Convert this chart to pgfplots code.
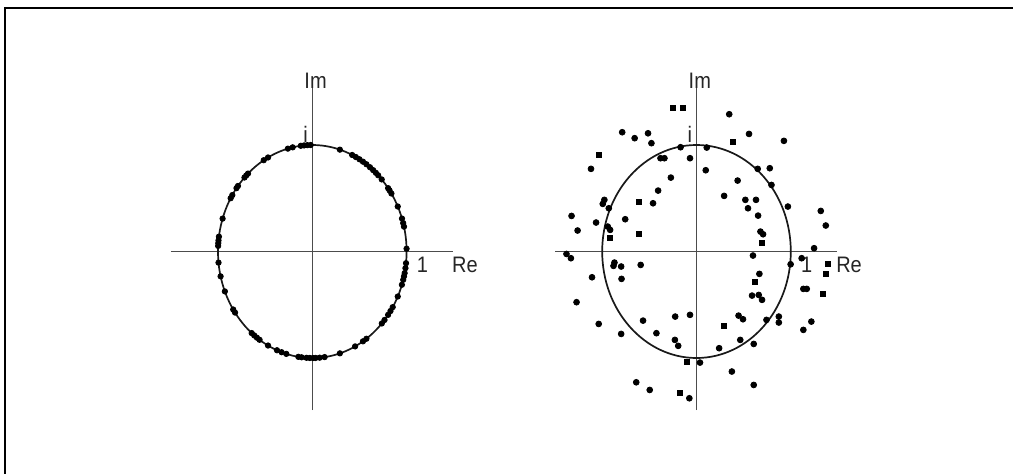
\documentclass[border=0pt]{standalone}
\usepackage{fontspec}
\setmainfont{Liberation Sans}
\usepackage{pgfplots}
\usepackage{pgfplotstable}
\pgfplotsset{compat=1.18}

% Points lying on the unit circle (left panel)
\pgfplotstableread{
x y
-0.0175 0.9998
-0.0523 0.9986
-0.0872 0.9962
-0.1219 0.9925
-0.2079 0.9781
-0.2588 0.9659
-0.4695 0.8829
-0.5150 0.8572
-0.6820 0.7314
-0.7009 0.7133
-0.7193 0.6947
-0.7880 0.6157
-0.8039 0.5948
-0.8480 0.5299
-0.8660 0.5000
-0.9511 0.3090
-0.9903 0.1392
-0.9945 0.1045
-0.9969 0.0785
-0.9986 0.0523
-0.9945 -0.1045
-0.9724 -0.2334
-0.9272 -0.3746
-0.8387 -0.5446
-0.8192 -0.5736
-0.6428 -0.7660
-0.6157 -0.7880
-0.5878 -0.8090
-0.5592 -0.8290
-0.4695 -0.8829
-0.3746 -0.9272
-0.3256 -0.9455
-0.2756 -0.9613
-0.1478 -0.9890
-0.1132 -0.9936
-0.0610 -0.9981
-0.0262 -0.9997
0.0087 -1.0000
0.0349 -0.9994
0.0785 -0.9969
0.1305 -0.9914
0.2924 -0.9563
0.4540 -0.8910
0.5373 -0.8434
0.5736 -0.8192
0.7373 -0.6756
0.7660 -0.6428
0.8039 -0.5948
0.8290 -0.5592
0.8526 -0.5225
0.9063 -0.4226
0.9500 -0.3123
0.9641 -0.2656
0.9724 -0.2334
0.9792 -0.2028
0.9877 -0.1564
0.9940 -0.1097
0.9997 0.0262
0.9724 0.2334
0.9636 0.2672
0.9511 0.3090
0.9063 0.4226
0.8387 0.5446
0.8192 0.5736
0.8039 0.5948
0.7361 0.6769
0.6984 0.7157
0.6743 0.7385
0.6455 0.7638
0.6115 0.7912
0.5736 0.8192
0.5373 0.8434
0.5000 0.8660
0.4617 0.8870
0.4226 0.9063
0.2924 0.9563
}\onCircle

% Scattered points (right panel), round markers
\pgfplotstableread{
x y
0.347 1.289
-0.788 1.120
-0.656 1.064
-0.514 1.110
-0.478 1.017
0.557 1.104
0.927 1.039
-0.169 0.979
0.109 0.976
-0.069 0.876
-1.119 0.776
-0.382 0.876
-0.340 0.876
-0.272 0.694
0.098 0.763
0.649 0.776
0.777 0.782
0.436 0.666
0.795 0.625
-0.407 0.572
-0.461 0.453
-0.977 0.485
-0.994 0.447
-0.930 0.406
0.293 0.522
0.518 0.485
0.631 0.485
0.546 0.406
0.653 0.337
0.969 0.422
1.318 0.381
1.371 0.244
-1.325 0.334
-1.065 0.272
-0.756 0.303
-1.261 0.197
-0.941 0.234
-0.916 0.203
0.678 0.187
0.706 0.162
-1.379 -0.023
-1.332 -0.063
1.247 0.031
0.599 -0.038
1.115 -0.063
0.998 -0.120
-0.870 -0.104
-0.799 -0.141
-0.880 -0.135
-0.592 -0.126
-1.108 -0.242
-0.795 -0.257
0.667 -0.210
1.133 -0.351
1.169 -0.351
-1.272 -0.476
0.589 -0.414
0.660 -0.408
0.695 -0.454
-1.037 -0.680
-0.799 -0.774
-0.567 -0.649
-0.425 -0.767
-0.226 -0.611
-0.069 -0.595
0.446 -0.602
0.493 -0.636
0.742 -0.642
0.873 -0.611
0.873 -0.667
1.133 -0.736
1.218 -0.658
-0.229 -0.830
-0.194 -0.886
0.240 -0.908
0.464 -0.830
0.607 -0.868
0.037 -1.043
0.375 -1.127
-0.639 -1.228
-0.496 -1.300
-0.076 -1.378
0.607 -1.253
}\scatterRound

% Scattered points (right panel), square markers
\pgfplotstableread{
x y
-0.254 1.345
-0.141 1.345
0.386 1.032
-1.037 0.907
-0.610 0.463
-0.916 0.125
-0.614 0.162
0.695 0.078
1.389 -0.120
0.614 -0.289
1.371 -0.213
1.343 -0.401
0.293 -0.695
-0.105 -1.033
-0.176 -1.331
}\scatterSquare

\pgfplotsset{
  plane/.style={
    anchor=south west,
    x=47.15pt, y=53.25pt,
    xmin=-1.5, xmax=1.5, ymin=-1.5, ymax=1.5,
    hide axis, clip=false,
  },
}
\tikzset{
  lbl/.style={inner sep=0pt, text=black!85, yscale=1.12,
    font=\fontsize{10}{12}\selectfont},
}

\newcommand{\complexplane}{%
  \draw[line width=0.55pt, black!70] (axis cs:-1.5,0) -- (axis cs:1.49,0);
  \draw[line width=0.55pt, black!70] (axis cs:0,-1.49) -- (axis cs:0,1.535);
  \draw[line width=0.85pt, black!90] (axis cs:0,0) ellipse [x radius=1, y radius=1];
  \node[lbl, anchor=base west] at (axis cs:-0.087,1.535) {Im};
  \node[lbl, anchor=base] at (axis cs:-0.07,1.028) {i};
  \node[lbl, anchor=base] at (axis cs:1.169,-0.197) {1};
  \node[lbl, anchor=base west] at (axis cs:1.478,-0.197) {Re};
}

\begin{document}
\begin{tikzpicture}
\path[use as bounding box, fill=white] (0pt,0pt) rectangle (506.5pt,236.5pt);
\draw[line width=1pt, line cap=rect] (2.5pt,-5pt) -- (2.5pt,232.65pt) -- (515pt,232.65pt);

\begin{axis}[plane, at={(85.425pt,30.875pt)}]
  \complexplane
  \addplot[only marks, mark=*, mark size=1.35pt, black] table {\onCircle};
\end{axis}

\begin{axis}[plane, at={(277.525pt,30.875pt)}]
  \complexplane
  \addplot[only marks, mark=*, mark size=1.45pt, black] table {\scatterRound};
  \addplot[only marks, mark=square*, mark size=1.25pt, black] table {\scatterSquare};
\end{axis}
\end{tikzpicture}
\end{document}
